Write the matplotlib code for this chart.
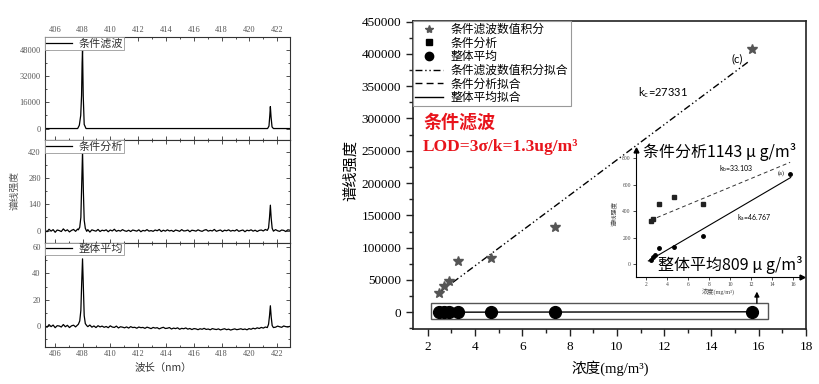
import numpy as np
import matplotlib
matplotlib.use('Agg')
import matplotlib.pyplot as plt
from matplotlib.patches import Rectangle
from matplotlib.lines import Line2D
from matplotlib.ticker import MultipleLocator

plt.rcParams['font.family'] = ['Liberation Serif', 'Noto Sans CJK SC', 'DejaVu Sans']
plt.rcParams['mathtext.fontset'] = 'stix'
plt.rcParams['axes.unicode_minus'] = False

CJK = ['Noto Sans CJK SC', 'DejaVu Sans']
SERIF_CJK = ['Liberation Serif', 'Noto Sans CJK SC', 'DejaVu Sans']

# ---------------- data: spectra (left) ----------------
wl_range = (405.3, 422.9)
spec_ticks = [406, 408, 410, 412, 414, 416, 418, 420, 422]

filt_wl = [405.3, 407.65, 407.77, 407.87, 407.93, 407.97, 408.0, 408.05, 408.12, 408.25,
           421.3, 421.4, 421.46, 421.5, 421.55, 421.62, 421.72, 422.9]
filt_I = [0, 0, 2000, 8000, 20000, 40000, 48000, 20000, 2500, 0,
          0, 1500, 8000, 13400, 7000, 1000, 0, 0]

noise_cond = [2, -6, 7, -3, 5, -9, 3, 0, -5, 9, -2, 4, -7, 1, 6, -4, 8, -1, -6, 3,
              -2, 5, -8, 4, 0, -3, 6, -5, 2, -1, 4, -6, 3, -2, 7, -4, 1, -3, 5, -1,
              -4, 2, -5, 3, 0, -3, 4, -6, 1, -2, 5, -3, 0, -4, 3, -1, 6, -5, 2, -3,
              4, -2, 1, -5, 3, 0, -4, 5, -2, -1, 3, -6, 2, 0, -3, 4, -1, -4, 2, 5,
              -3, 1, -2, 6, -4, 0, 3, -5, 2, -1, 4, -3, 1, -2, 5, -4, 0, 3, -6, 2,
              -1, 4, -3, 2, -5, 1, 3, -2, 6, -4, 0, 2, -3, 5, -1, -4, 3, 1, -5, 4, 2]
noise_avg = [0.5, -0.8, 1.2, -0.3, 0.9, -1.1, 0.4, 0.2, -0.6, 1.3,
             -0.4, 0.7, -1.0, 0.3, 0.8, -0.5, 1.0, -0.2, -0.9, 0.5,
             0.6, -0.3, 0.9, -0.7, 0.2, -1.0, 0.4, -0.5, 0.1, -0.8,
             -0.2, -1.1, 0.3, -0.6, -0.9, 0.1, -1.3, -0.4, -0.7, -1.2,
             -0.5, -1.4, -0.3, -1.0, -0.8, -1.5, -0.6, -1.1, -0.9, -1.6,
             -0.7, -1.2, -1.8, -0.9, -1.4, -1.1, -2.0, -1.3, -0.8, -1.7,
             -1.5, -1.0, -2.1, -1.4, -1.8, -1.2, -2.3, -1.6, -1.9, -1.3,
             -2.2, -1.7, -2.5, -1.8, -2.0, -2.6, -1.9, -2.3, -1.6, -2.4,
             -2.1, -2.7, -1.8, -2.2, -2.5, -2.0, -2.8, -2.3, -1.9, -2.6,
             -2.2, -2.9, -2.4, -2.0, -2.6, -2.3, -1.9, -2.5, -2.1, -2.7,
             -1.8, -2.3, -1.5, -2.0, -1.2, -1.7, -0.9, -1.4, -0.6, -1.1,
             -0.5, -0.9, -0.2, -0.7, 0.1, -0.4, -0.8, 0.2, -0.3, -0.6, -0.1]

pk1_wl = [407.7, 407.8, 407.88, 407.94, 408.0, 408.06, 408.12, 408.2, 408.3]
pk2_wl = [421.28, 421.37, 421.44, 421.5, 421.56, 421.63, 421.72]
cond_pk1 = [4, 18, 70, 240, 420, 210, 55, 12, -4]
cond_pk2 = [1, 14, 70, 135, 65, 12, -3]
avg_pk1 = [1.5, 4, 12, 33, 51, 28, 8, 2, 0.5]
avg_pk2 = [-1, 1.5, 8, 15.5, 7, 0.5, -1]

# ---------------- data: calibration (right) ----------------
conc = [2.47, 2.70, 2.91, 3.28, 4.67, 7.40, 15.70]
filt_int = [30300, 40700, 48900, 79400, 84500, 132500, 407100]
avg_int = [30, 55, 66, 119, 131, 214, 680]
cond_conc = [2.47, 2.70, 3.28, 4.67, 7.40]
cond_int = [328, 341, 455, 505, 452]

k_filt, b_filt, filt_fit_x = 27331, -37500, [2.45, 15.55]
k_cond, b_cond, cond_fit_x = 33.103, 250, [2.47, 15.70]
k_avg, b_avg, avg_fit_x = 46.767, -82, [2.25, 15.75]

legend_labels = ['条件滤波数值积分', '条件分析', '整体平均',
                 '条件滤波数值积分拟合', '条件分析拟合', '整体平均拟合']


def build(base_wl, base_val, peaks):
    base_wl = np.asarray(base_wl)
    base_val = np.asarray(base_val, dtype=float)
    keep = np.ones(len(base_wl), bool)
    xs, ys = [], []
    for pw, pv in peaks:
        keep &= ~((base_wl >= pw[0] - 0.03) & (base_wl <= pw[-1] + 0.03))
        xs.extend(pw)
        ys.extend(pv)
    x = np.concatenate([base_wl[keep], xs])
    y = np.concatenate([base_val[keep], ys])
    o = np.argsort(x)
    return x[o], y[o]


fig = plt.figure(figsize=(8.19, 3.84), dpi=100)

base_wl = np.linspace(wl_range[0], wl_range[1], len(noise_cond))
spectra = [
    (np.array(filt_wl), np.array(filt_I), '条件滤波', (-7000, 55800), [0, 16000, 32000, 48000], 8000),
    (*build(base_wl, noise_cond, [(pk1_wl, cond_pk1), (pk2_wl, cond_pk2)]), '条件分析', (-66, 481), [0, 140, 280, 420], 70),
    (*build(base_wl, noise_avg, [(pk1_wl, avg_pk1), (pk2_wl, avg_pk2)]), '整体平均', (-15.7, 63), [0, 20, 40, 60], 10),
]
rects = [[0.0549, 0.6354, 0.299, 0.268], [0.0549, 0.3672, 0.299, 0.268], [0.0549, 0.0964, 0.299, 0.2708]]
for i, ((x, y, lab, yl, yt, ymin), r) in enumerate(zip(spectra, rects)):
    ax = fig.add_axes(r)
    ax.plot(x, y, color='black', lw=0.9, label=lab)
    ax.set_xlim(*wl_range)
    ax.set_ylim(*yl)
    ax.set_yticks(yt)
    ax.set_xticks(spec_ticks)
    ax.xaxis.set_minor_locator(MultipleLocator(1))
    ax.yaxis.set_minor_locator(MultipleLocator(ymin))
    ax.tick_params(which='both', direction='in', top=True, right=True,
                   labelsize=6, labelcolor='#555', width=0.6, color='#333')
    ax.tick_params(which='major', length=3)
    ax.tick_params(which='minor', length=1.5)
    ax.tick_params(axis='x', labelbottom=(i == 2), labeltop=(i == 0), pad=2.5)
    ax.tick_params(axis='y', pad=3)
    for s in ax.spines.values():
        s.set_linewidth(0.8)
        s.set_color('#333')
    leg = ax.legend(loc='upper left', bbox_to_anchor=(0, 1), borderaxespad=0,
                    prop={'family': CJK, 'size': 8}, frameon=True, fancybox=False,
                    edgecolor='#999', handlelength=2.3, borderpad=0.1,
                    handletextpad=0.6, framealpha=1)
    leg.get_frame().set_linewidth(0.6)
    for t in leg.get_texts():
        t.set_color('#333')

fig.text(0.018, 0.505, '谱线强度', rotation=90, ha='center', va='center',
         fontsize=7, color='#555', family=CJK)
fig.text(0.199, 0.042, '波长（nm）', ha='center', va='center', fontsize=7.5, color='#333', family=CJK)

# ---------------- main calibration axes ----------------
ax = fig.add_axes([0.5043, 0.1432, 0.4799, 0.803])
xf = np.array(filt_fit_x)
ax.plot(xf, k_filt * xf + b_filt, color='black', lw=1.0, ls=(0, (5, 2, 1, 2, 1, 2)))
ax.plot(cond_conc, cond_int, 's', color='black', ms=5)
xa = np.array([conc[0], conc[-1]])
ax.plot(xa, k_avg * xa + b_avg, color='black', lw=1.0)
ax.plot(conc, avg_int, 'o', color='black', ms=8.5)
ax.plot(conc, filt_int, '*', color='#555', ms=7.5)
ax.set_xlim(1.38, 18)
ax.set_ylim(-26000, 451500)
ax.set_xticks(np.arange(2, 19, 2))
ax.set_yticks(np.arange(0, 450001, 50000))
ax.xaxis.set_minor_locator(MultipleLocator(1))
ax.yaxis.set_minor_locator(MultipleLocator(25000))
ax.tick_params(which='both', direction='out', labelsize=9.5, width=1, color='#222')
ax.tick_params(which='major', length=5)
ax.tick_params(which='minor', length=3)
for s in ax.spines.values():
    s.set_linewidth(1.2)
    s.set_color('#222')

ax.add_patch(Rectangle((2.13, -10400), 16.4 - 2.13, 24300, fill=False, ec='#555', lw=1.0))
ax.annotate('', xy=(15.92, 32000), xytext=(15.92, 13900),
            arrowprops=dict(arrowstyle='-|>', color='black', lw=1.0, mutation_scale=7,
                            shrinkA=0, shrinkB=0))

handles = [Line2D([], [], ls='none', marker='*', color='#555', ms=6),
           Line2D([], [], ls='none', marker='s', color='black', ms=4.5),
           Line2D([], [], ls='none', marker='o', color='black', ms=6),
           Line2D([], [], color='black', lw=1, ls=(0, (5, 2, 1, 2, 1, 2))),
           Line2D([], [], color='black', lw=1, ls=(0, (5, 3))),
           Line2D([], [], color='black', lw=1)]
leg = ax.legend(handles, legend_labels, loc='upper left', bbox_to_anchor=(0, 1),
                borderaxespad=0, prop={'family': CJK, 'size': 8.5}, fancybox=False,
                edgecolor='#999', framealpha=1, handlelength=2.3, labelspacing=0.05,
                borderpad=0.2, handletextpad=0.7)
leg.get_frame().set_linewidth(0.8)

ax.text(1.8, 294600, '条件滤波', color='#e8141c', fontsize=13, fontweight='bold',
        family=CJK, va='center', ha='left')
ax.text(1.8, 255900, 'LOD=3σ/k=1.3ug/m³', color='#e8141c', fontsize=12.5,
        fontweight='bold', family=['Liberation Serif'], va='center', ha='left')
ax.text(10.9, 340000, r'k$_\mathregular{c}$=27331', fontsize=8, family=['Lato'],
        va='center', ha='left')
ax.text(14.85, 392000, '(c)', fontsize=8, family=['Lato'], va='center', ha='left')
ax.text(11.1, 248000, '条件分析1143 μ g/m³', fontsize=11.5, family=CJK, va='center',
        ha='left', zorder=10)
ax.text(11.74, 73200, '整体平均809 μ g/m³', fontsize=11.5, family=CJK, va='center',
        ha='left', zorder=10)

fig.text(0.745, 0.042, '浓度(mg/m³)', ha='center', va='center', fontsize=10.5, family=SERIF_CJK)
fig.text(0.428, 0.555, '谱线强度', rotation=90, ha='center', va='center', fontsize=11, family=CJK)

# ---------------- inset ----------------
axi = fig.add_axes([0.7762, 0.2794, 0.2027, 0.33])
axi.set_facecolor('none')
xc = np.array(cond_fit_x)
axi.plot(xc, k_cond * xc + b_cond, color='#333', lw=0.7, ls=(0, (4, 3)))
xv = np.array(avg_fit_x)
axi.plot(xv, k_avg * xv + b_avg, color='black', lw=0.8)
axi.plot(cond_conc, cond_int, 's', color='#222', ms=2.2)
axi.plot(conc, avg_int, 'o', color='black', ms=2.5)
axi.set_xlim(1.05, 16.8)
axi.set_ylim(-96, 863)
axi.set_xticks(np.arange(2, 17, 2))
axi.set_yticks([0, 200, 400, 600, 800])
for s in ['top', 'right']:
    axi.spines[s].set_visible(False)
for s in ['left', 'bottom']:
    axi.spines[s].set_linewidth(0.8)
axi.tick_params(which='both', direction='out', length=2, width=0.5, labelsize=4, pad=1.5,
                labelcolor='#444')
axi.plot(1, 0, '>', color='black', ms=3.5, transform=axi.transAxes, clip_on=False)
axi.plot(0, 1, '^', color='black', ms=3.5, transform=axi.transAxes, clip_on=False)
axi.set_ylabel('谱线强度', fontsize=4.5, family=CJK, labelpad=2, color='#444')
axi.set_xlabel('浓度(mg/m³)', fontsize=4.5, family=SERIF_CJK, labelpad=2, color='#444')
axi.text(10.6, 725, r'k$_\mathregular{b}$=33.103', fontsize=5, family=['Lato'], ha='center', va='center')
axi.text(12.3, 354, r'k$_\mathregular{a}$=46.767', fontsize=5, family=['Lato'], ha='center', va='center')
axi.text(14.9, 687, '(a)', fontsize=4.5, ha='center', va='center')

fig.savefig('out.png', dpi=100)
